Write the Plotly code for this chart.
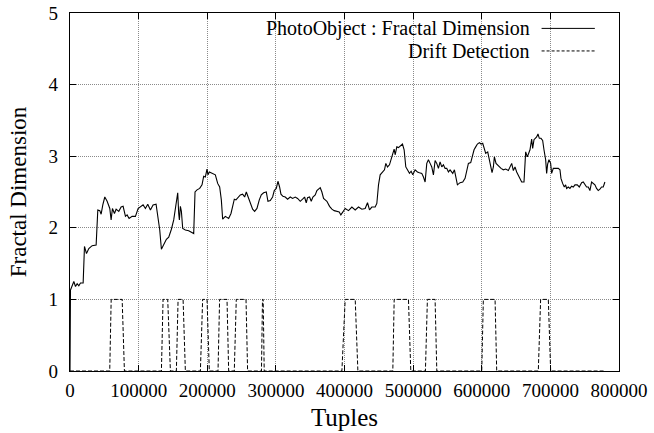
import plotly.graph_objects as go

# Fractal dimension series (tuples, value)
fd_x = [0, 700, 5580, 8006, 10432, 12858, 15284, 19166, 21106, 24018, 27414, 32266, 38088,
        40514, 43426, 45366, 47792, 50704, 54100, 57982, 59922, 61863, 64774, 67200, 71082,
        74478, 77390, 80786, 83212, 86123, 90490, 95342, 99224, 102620, 106502, 109898,
        113294, 117176, 121058, 125424, 128336, 130762, 133188, 136584, 140466, 143862,
        147744, 151140, 153566, 155507, 156962, 158418, 159388, 160844, 162300, 164240,
        168122, 172974, 177826, 180252, 182193, 185104, 188986, 192382, 194808, 197234,
        199660, 201116, 203056, 206938, 211790, 215186, 218098, 220524, 222464, 226346,
        231198, 234594, 237506, 239446, 241872, 244784, 248180, 251576, 254488, 256914,
        259340, 262736, 266132, 269044, 272440, 275836, 278748, 282144, 286026, 288452,
        291848, 295244, 297670, 300582, 303008, 305434, 307374, 310286, 313682, 317078,
        320960, 324356, 328238, 331634, 335516, 338912, 341824, 344250, 346190, 349102,
        351528, 353954, 357350, 359776, 362202, 364628, 367054, 369480, 371906, 374332,
        378214, 381610, 385006, 388888, 392284, 394710, 401018, 405870, 410722, 415574,
        420426, 425278, 430130, 433526, 436438, 439834, 444686, 447112, 449538, 451964,
        455360, 458272, 460212, 462638, 465550, 467976, 469916, 472342, 473798, 476224,
        478650, 481076, 484472, 486898, 489324, 491750, 494662, 497088, 499514, 502910,
        506306, 509218, 512614, 515040, 517466, 519892, 522318, 524744, 527170, 529596,
        532022, 534448, 536874, 539300, 541726, 544152, 546578, 549004, 551430, 553856,
        557738, 560164, 562590, 564530, 568412, 572294, 575690, 578116, 580542, 583938,
        586364, 588790, 591216, 593642, 596554, 598980, 601406, 603346, 605772, 608684,
        611110, 613050, 614991, 616932, 618388, 620814, 624210, 628092, 631488, 634884,
        638766, 641192, 643618, 646044, 648470, 650896, 653322, 655748, 658174, 661570,
        663996, 666422, 668363, 670304, 672730, 674186, 676126, 678552, 680008, 681949,
        683890, 686316, 688742, 690682, 693108, 694564, 696020, 697960, 700386, 701842,
        704268, 708150, 711546, 713972, 715428, 717854, 720280, 722220, 723676, 726102,
        728528, 730954, 733380, 735806, 739202, 742114, 745510, 747936, 750362, 752788,
        755214, 757640, 760066, 762492, 764918, 767344, 769770, 772196, 774622, 777048,
        779474]
fd_y = [0, 1.13, 1.25, 1.18, 1.22, 1.19, 1.23, 1.23, 1.74, 1.64, 1.71, 1.75, 1.76,
        2.25, 2.24, 2.19, 2.32, 2.43, 2.37, 2.27, 2.11, 2.27, 2.20, 2.26, 2.23,
        2.29, 2.30, 2.16, 2.18, 2.13, 2.16, 2.16, 2.27, 2.29, 2.32, 2.27,
        2.33, 2.25, 2.32, 2.33, 2.13, 1.97, 1.70, 1.76, 1.84, 1.87,
        1.98, 2.11, 2.25, 2.37, 2.49, 2.20, 2.11, 2.30, 2.23, 1.99,
        1.97, 1.96, 1.94, 1.92, 2.50, 2.53, 2.55, 2.60, 2.72, 2.71,
        2.82, 2.74, 2.78, 2.76, 2.74, 2.62, 2.57, 2.39, 2.12, 2.16,
        2.13, 2.20, 2.32, 2.40, 2.39, 2.43, 2.46, 2.47, 2.43, 2.50,
        2.43, 2.34, 2.26, 2.23, 2.27, 2.39, 2.46, 2.49, 2.50, 2.37,
        2.38, 2.43, 2.52, 2.55, 2.65, 2.57, 2.47, 2.44, 2.43, 2.40,
        2.43, 2.41, 2.43, 2.41, 2.37, 2.40, 2.43, 2.35, 2.42, 2.43,
        2.37, 2.43, 2.46, 2.52, 2.54, 2.56, 2.50, 2.41, 2.39, 2.37,
        2.30, 2.26, 2.24, 2.23, 2.22, 2.18, 2.27, 2.24, 2.29, 2.25,
        2.29, 2.26, 2.27, 2.35, 2.25, 2.29, 2.29, 2.34, 2.60, 2.74,
        2.78, 2.81, 2.90, 2.85, 2.88, 2.97, 3.04, 3.10, 3.02, 3.13,
        3.12, 3.14, 3.17, 3.09, 2.85, 2.81, 2.76, 2.79, 2.74, 2.81,
        2.78, 2.77, 2.76, 2.71, 2.64, 2.90, 2.95, 2.90, 2.85, 2.74,
        2.94, 2.90, 2.83, 2.92, 2.85, 2.88, 2.83, 2.83, 2.78, 2.81,
        2.76, 2.81, 2.67, 2.60, 2.63, 2.64, 2.69, 2.81, 2.90, 2.91,
        2.99, 3.09, 3.13, 3.17, 3.19, 3.17, 3.18, 3.11, 3.04, 3.06,
        2.95, 2.83, 2.77, 2.85, 2.99, 2.90, 2.86, 2.83, 2.81, 2.82,
        2.80, 2.85, 2.90, 2.80, 2.85, 2.78, 2.74, 2.69, 2.64, 2.64,
        3.06, 2.99, 3.04, 3.09, 3.24, 3.11, 3.23, 3.25, 3.27, 3.31,
        3.25, 3.25, 3.22, 3.09, 2.95, 2.76, 2.89, 2.95, 2.90, 2.76,
        2.83, 2.83, 2.83, 2.81, 2.69, 2.62, 2.57, 2.60, 2.55, 2.57,
        2.55, 2.58, 2.57, 2.60, 2.60, 2.57, 2.63, 2.64, 2.60, 2.57,
        2.57, 2.52, 2.64, 2.62, 2.60, 2.55, 2.52, 2.54, 2.57, 2.57,
        2.64]

# Drift detection square wave
drift_x = [0,
           57900, 60000, 76000, 79300,
           133200, 135600, 142400, 146300,
           155000, 157500, 164800, 168100,
           190000, 193300, 199700, 203000,
           215700, 218000, 228800, 231200,
           239400, 242300, 256500, 258800,
           279000, 280500, 281500, 283000,
           396200, 401000, 415600, 419500,
           470400, 472400, 493200, 496600,
           517900, 520800, 532000, 534500,
           600000, 602300, 619400, 621800,
           682400, 685800, 697000, 700400,
           779500]
drift_y = [0] + [0, 1, 1, 0] * 12 + [0]

x_ticks = [0, 100000, 200000, 300000, 400000, 500000, 600000, 700000, 800000]
x_tick_text = [str(v) for v in x_ticks]
y_ticks = [0, 1, 2, 3, 4, 5]

series_names = ["PhotoObject : Fractal Dimension", "Drift Detection"]

FONT = "Liberation Serif, Times New Roman, serif"
DASH = "4px,2px"

fig = go.Figure()
fig.add_trace(go.Scatter(x=fd_x, y=fd_y, mode="lines",
                         line=dict(color="black", width=1.1), showlegend=False))
fig.add_trace(go.Scatter(x=drift_x, y=drift_y, mode="lines",
                         line=dict(color="black", width=1, dash=DASH),
                         showlegend=False))

# Legend (gnuplot style: text right-aligned, sample on the right)
leg_rows = [0.957, 0.894]
leg_dash = ["solid", "3px,2px"]
fig.add_shape(type="rect", xref="paper", yref="paper", x0=0.15, x1=1.0, y0=0.863, y1=1.0,
              fillcolor="white", line=dict(width=0), layer="between")
for name, yy, dsh in zip(series_names, leg_rows, leg_dash):
    fig.add_annotation(xref="paper", yref="paper", x=0.842, y=yy, text=name,
                       showarrow=False, xanchor="right", yanchor="middle",
                       font=dict(family=FONT, size=20, color="black"))
    fig.add_shape(type="line", xref="paper", yref="paper", x0=0.859, x1=0.956,
                  y0=yy, y1=yy, line=dict(color="black", width=1, dash=dsh))

axis_common = dict(showline=True, linecolor="black", linewidth=1.2, mirror="ticks",
                   ticks="inside", ticklen=6, tickcolor="black", tickwidth=1,
                   showgrid=True, gridcolor="#8a8a8a", griddash="1px,1px", gridwidth=1,
                   zeroline=False, automargin=False,
                   tickfont=dict(family=FONT, size=19, color="black"))

fig.update_xaxes(range=[0, 800000], tickvals=x_ticks, ticktext=x_tick_text,
                 ticklabelstandoff=2,
                 title=dict(text="Tuples", font=dict(family=FONT, size=25, color="black"),
                            standoff=8),
                 **axis_common)
fig.update_yaxes(range=[0, 5], tickvals=y_ticks, ticklabelstandoff=7,
                 title=dict(text="Fractal Dimension",
                            font=dict(family=FONT, size=23, color="black"), standoff=15),
                 **axis_common)

fig.update_layout(width=654, height=433, margin=dict(l=69.5, r=35, t=13, b=62),
                  plot_bgcolor="white", paper_bgcolor="white", showlegend=False)

fig.write_html("out.html")
